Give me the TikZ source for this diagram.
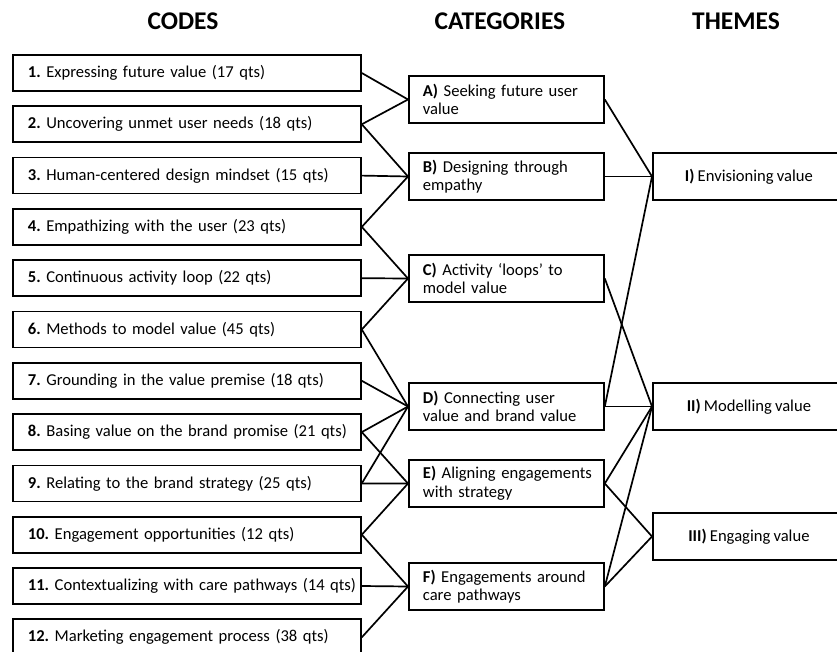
\documentclass[tikz,border=0pt]{standalone}
\usepackage{fontspec}
\setmainfont{Carlito}[WordSpace=0.85]
\frenchspacing
\newcommand\cd[2]{\mbox{\textbf{#1} #2}}
\newcommand\ct[3]{\mbox{\textbf{#1} #2}\\\mbox{#3}}
\begin{document}
\begin{tikzpicture}[x=1pt,y=-1pt,
  box/.style={draw,line width=1.8pt,inner ysep=0pt,font=\fontsize{16.6}{18.5}\selectfont},
  codebox/.style={box,anchor=west,minimum height=36pt,text width=318pt,inner xsep=15pt,align=left},
  catbox/.style={box,anchor=west,minimum height=47pt,text width=167pt,inner xsep=14pt,align=left},
  themebox/.style={box,anchor=west,minimum height=47pt,minimum width=192pt,inner xsep=0pt,align=center},
  head/.style={font=\fontsize{25.5}{28}\selectfont\bfseries},
  link/.style={line width=1.7pt}]
\useasboundingbox (0,0) rectangle (837,652);

\node[head] (hc) at (183,21) {CODES};
\node[head] (hk) at (500,21) {CATEGORIES};
\node[head] (ht) at (736,21) {THEMES};

\node[codebox] (c1)  at (12,73)    {\cd{1.}{Expressing future value (17 qts)}};
\node[codebox] (c2)  at (12,124.3) {\cd{2.}{Uncovering unmet user needs (18 qts)}};
\node[codebox] (c3)  at (12,175.6) {\cd{3.}{Human-centered design mindset (15 qts)}};
\node[codebox] (c4)  at (12,226.9) {\cd{4.}{Empathizing with the user (23 qts)}};
\node[codebox] (c5)  at (12,278.2) {\cd{5.}{Continuous activity loop (22 qts)}};
\node[codebox] (c6)  at (12,329.5) {\cd{6.}{Methods to model value (45 qts)}};
\node[codebox] (c7)  at (12,380.8) {\cd{7.}{Grounding in the value premise (18 qts)}};
\node[codebox] (c8)  at (12,432.1) {\cd{8.}{Basing value on the brand promise (21 qts)}};
\node[codebox] (c9)  at (12,483.4) {\cd{9.}{Relating to the brand strategy (25 qts)}};
\node[codebox] (c10) at (12,534.7) {\cd{10.}{Engagement opportunities (12 qts)}};
\node[codebox] (c11) at (12,586)   {\cd{11.}{Contextualizing with care pathways (14 qts)}};
\node[codebox] (c12) at (12,637.3) {\cd{12.}{Marketing engagement process (38 qts)}};

\node[catbox] (kA) at (408,99.5)  {\ct{A)}{Seeking future user}{value}};
\node[catbox] (kB) at (408,176.5) {\ct{B)}{Designing through}{empathy}};
\node[catbox] (kC) at (408,278.5) {\ct{C)}{Activity ‘loops’ to}{model value}};
\node[catbox] (kD) at (408,406.5) {\ct{D)}{Connecting user}{value and brand value}};
\node[catbox] (kE) at (408,483.5) {\ct{E)}{Aligning engagements}{with strategy}};
\node[catbox] (kF) at (408,586.5) {\ct{F)}{Engagements around}{care pathways}};

\node[themebox] (t1) at (652,176.5) {\textbf{I)} Envisioning value};
\node[themebox] (t2) at (652,406.5) {\textbf{II)} Modelling value};
\node[themebox] (t3) at (652,536.5) {\textbf{III)} Engaging value};

\foreach \a/\b in {c1/kA,c2/kA,c2/kB,c3/kB,c4/kB,c4/kC,c5/kC,c6/kC,c6/kD,c7/kD,c8/kD,c8/kE,c9/kD,c9/kE,c10/kE,c10/kF,c11/kF,c12/kF,
  kA/t1,kB/t1,kC/t2,kD/t1,kD/t2,kE/t2,kE/t3,kF/t2,kF/t3}
  \draw[link] (\a.east) -- (\b.west);
\end{tikzpicture}
\end{document}
